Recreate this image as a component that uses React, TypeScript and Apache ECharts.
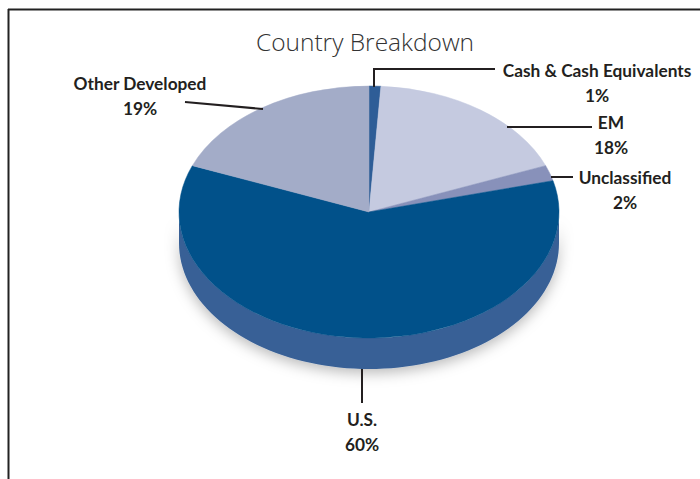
import React, { useEffect, useRef } from "react";
import * as echarts from "echarts";

const categories = ["Cash & Cash Equivalents", "EM", "Unclassified", "U.S.", "Other Developed"];
const values = [1, 18, 2, 60, 19];
const topColors = ["#2e5d97", "#c5cae0", "#8891ba", "#01518a", "#a3acc8"];
const sideColors = ["#2a5790", "#a9afc9", "#6f7aa6", "#386096", "#8a93b5"];

// layout (not data)
const CX = 369, CY = 212, RX = 190, RY = 126, DEPTH = 31;
const labelLayout = [
  { x: 597, y: 83, line: [[374, 87], [374, 69], [495, 69]] },
  { x: 611, y: 134.5, line: [[507, 127], [592, 127]] },
  { x: 625, y: 190, line: [[551, 177], [573, 177]] },
  { x: 362, y: 431.5, line: [[362, 369], [362, 403]] },
  { x: 140, y: 95.5, line: [[185, 102], [263, 109]] },
];

const total = values.reduce((a, b) => a + b, 0);
const starts: number[] = [];
{
  let acc = 0;
  values.forEach((v) => {
    starts.push((acc / total) * Math.PI * 2);
    acc += v;
  });
}

function pt(t: number, dy: number) {
  return [CX + RX * Math.sin(t), CY - RY * Math.cos(t) + dy];
}

export default function App() {
  const ref = useRef<HTMLDivElement>(null);
  useEffect(() => {
    const chart = echarts.init(ref.current!, undefined, { renderer: "svg" });
    const data = values.map((v, i) => ({ name: categories[i], value: v }));
    const option: any = {
      animation: false,
      backgroundColor: "#ffffff",
      series: [
        {
          type: "custom",
          coordinateSystem: "none",
          z: 1,
          data,
          renderItem: (params: any, api: any) => {
            const i = params.dataIndex;
            const a0 = starts[i];
            const a1 = a0 + (api.value(0) / total) * Math.PI * 2;
            const s = Math.max(a0, Math.PI / 2);
            const e = Math.min(a1, (Math.PI * 3) / 2);
            if (e <= s) return { type: "group", children: [] };
            const pts: number[][] = [];
            const N = 80;
            for (let k = 0; k <= N; k++) pts.push(pt(s + ((e - s) * k) / N, 0));
            for (let k = N; k >= 0; k--) pts.push(pt(s + ((e - s) * k) / N, DEPTH));
            return {
              type: "polygon",
              shape: { points: pts },
              style: {
                fill: sideColors[i],
                shadowBlur: 14,
                shadowColor: "rgba(0,0,0,0.28)",
                shadowOffsetY: 4,
              },
            };
          },
        },
        {
          type: "custom",
          coordinateSystem: "none",
          z: 2,
          data,
          renderItem: (params: any, api: any) => {
            const i = params.dataIndex;
            const a0 = starts[i];
            const a1 = a0 + (api.value(0) / total) * Math.PI * 2;
            return {
              type: "group",
              x: CX,
              y: CY,
              scaleY: RY / RX,
              children: [
                {
                  type: "sector",
                  shape: {
                    cx: 0,
                    cy: 0,
                    r: RX,
                    r0: 0,
                    startAngle: a0 - Math.PI / 2,
                    endAngle: a1 - Math.PI / 2,
                    clockwise: true,
                  },
                  style: { fill: topColors[i], stroke: topColors[i], lineWidth: 0.6 },
                },
              ],
            };
          },
        },
      ],
      graphic: [
        {
          type: "line",
          shape: { x1: 8, y1: 9.5, x2: 700, y2: 9.5 },
          style: { stroke: "#222", lineWidth: 2 },
        },
        {
          type: "line",
          shape: { x1: 8.5, y1: 9, x2: 8.5, y2: 479 },
          style: { stroke: "#222", lineWidth: 2 },
        },
        {
          type: "text",
          x: 365,
          y: 41,
          style: {
            text: "Country Breakdown",
            align: "center",
            verticalAlign: "middle",
            fontFamily: "Open Sans",
            fontWeight: 300,
            fontSize: 24.5,
            fill: "#333333",
          },
        },
        ...labelLayout.flatMap((l, i) => [
          {
            type: "polyline",
            shape: { points: l.line },
            style: { stroke: "#231f20", lineWidth: 2, fill: "none" },
            z: 10,
          },
          {
            type: "text",
            x: l.x,
            y: l.y,
            z: 10,
            style: {
              text: `${categories[i]}\n${values[i]}%`,
              align: "center",
              verticalAlign: "middle",
              lineHeight: 25,
              fontFamily: "Lato",
              fontWeight: "bold",
              fontSize: 17.3,
              fill: "#231f20",
            },
          },
        ]),
      ],
    };
    chart.setOption(option);
    return () => chart.dispose();
  }, []);
  return (
    <div
      ref={ref}
      style={{ position: "fixed", left: 0, top: 0, width: 700, height: 479 }}
    />
  );
}
